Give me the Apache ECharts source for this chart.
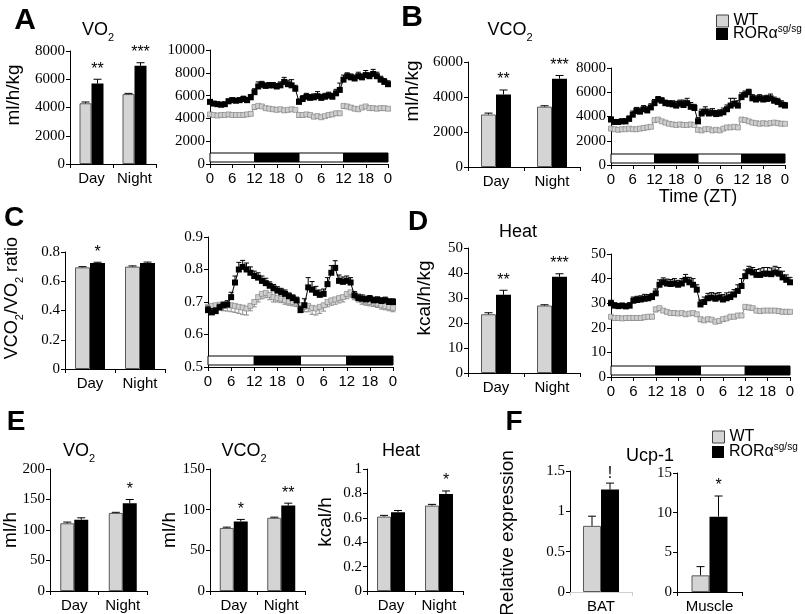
<!DOCTYPE html>
<html><head><meta charset="utf-8">
<script src="https://cdn.jsdelivr.net/npm/echarts@6/dist/echarts.min.js"></script>
<style>html,body{margin:0;padding:0;background:#fff}#c{width:805px;height:614px}</style>
</head><body><div id="c"></div>
<script>
// ---------- DATA ----------
const barCats = ['Day', 'Night'];
const ztTickLabels = ['0','6','12','18','0','6','12','18','0'];
const ztPhases = [[0,12,'light'],[12,24,'dark'],[24,36,'light'],[36,48,'dark']];
const WT = 'WT', KO = 'RORα sg/sg';

// A: VO2 (ml/h/kg)
const aBarWT = [4300, 4950], aBarWTErr = [90, 50];
const aBarKO = [5700, 6950], aBarKOErr = [300, 220];
const aBarSig = ['**', '***'];
const aLineKO = [5450,5300,5250,5200,5250,5500,5600,5550,5600,5700,5600,5850,6300,6800,6950,6850,6900,6900,6800,6900,7200,7000,6900,6600,5450,5700,5900,5800,5850,5950,5800,5900,6000,5900,6200,6500,7400,7700,7600,7500,7700,7600,7800,7700,7900,7700,7400,7200,7000];
const aLineKOErr = [200,150,150,150,150,200,200,200,200,250,200,250,300,400,300,250,250,250,250,300,400,350,500,300,250,300,300,300,300,400,300,300,300,300,350,600,400,300,300,300,350,300,400,300,400,350,300,300,300];
const aLineWT = [4350,4300,4250,4300,4300,4350,4300,4300,4300,4300,4350,4400,5000,5100,5050,4900,4850,4800,4750,4800,4700,4750,4800,4750,4300,4300,4350,4300,4150,4200,4100,4200,4300,4350,4450,4450,5100,5050,4950,4850,4800,4950,5050,4900,4900,4850,4900,4900,4850];
const aLineWTErr = [150,150,150,150,150,150,150,150,150,150,150,150,200,200,150,150,150,150,150,150,150,150,150,150,200,150,150,150,150,150,150,150,150,150,150,150,200,200,150,150,150,150,150,150,150,150,150,150,150];

// B: VCO2 (ml/h/kg)
const bBarWT = [3000, 3450], bBarWTErr = [80, 50];
const bBarKO = [4150, 5050], bBarKOErr = [250, 180];
const bBarSig = ['**', '***'];
const bLineKO = [3750,3550,3550,3600,3600,3800,4150,4450,4400,4600,4500,4750,5100,5400,5300,5100,5050,5000,4900,5050,4950,5100,4800,4700,3600,4250,4400,4250,4300,4200,4250,4350,4600,4900,5050,4900,5600,5800,6000,5500,5400,5500,5400,5450,5500,5300,5200,5000,4900];
const bLineKOErr = [200,200,200,200,200,250,300,300,300,300,300,300,300,250,250,250,250,300,350,300,400,400,350,300,300,350,400,350,350,300,300,350,350,600,450,400,350,300,250,300,300,300,300,300,350,300,300,300,250];
const bLineWT = [3000,2950,2900,2950,2950,3000,2950,2950,3000,3050,3100,3150,3700,3750,3600,3500,3400,3350,3300,3350,3300,3300,3350,3300,2900,2850,2950,2950,2850,2900,2850,3000,3100,3100,3150,3100,3750,3700,3600,3500,3450,3400,3450,3400,3450,3500,3450,3400,3400];
const bLineWTErr = [120,120,120,120,120,120,120,120,120,120,120,120,150,150,120,120,120,120,120,120,120,120,120,120,150,120,120,120,120,120,120,120,120,120,120,120,150,150,120,120,120,120,120,120,120,120,120,120,120];

// C: VCO2/VO2 ratio
const cBarWT = [0.695, 0.700], cBarWTErr = [0.005, 0.005];
const cBarKO = [0.725, 0.725], cBarKOErr = [0.005, 0.006];
const cBarSig = ['*', ''];
const cLineKO = [0.675,0.668,0.672,0.683,0.690,0.692,0.715,0.760,0.800,0.808,0.800,0.790,0.780,0.775,0.765,0.758,0.750,0.742,0.735,0.730,0.725,0.718,0.712,0.705,0.675,0.690,0.745,0.738,0.728,0.722,0.725,0.755,0.790,0.805,0.765,0.762,0.765,0.760,0.720,0.712,0.710,0.708,0.710,0.705,0.706,0.703,0.705,0.700,0.700];
const cLineKOErr = [0.012,0.012,0.010,0.010,0.010,0.012,0.015,0.020,0.022,0.020,0.020,0.018,0.015,0.015,0.015,0.015,0.012,0.012,0.012,0.012,0.012,0.010,0.010,0.010,0.012,0.020,0.030,0.025,0.020,0.015,0.015,0.020,0.022,0.022,0.018,0.015,0.015,0.015,0.012,0.012,0.012,0.010,0.010,0.010,0.010,0.010,0.010,0.010,0.010];
const cLineWT = [0.685,0.688,0.690,0.692,0.688,0.690,0.690,0.688,0.685,0.683,0.680,0.688,0.700,0.715,0.725,0.728,0.722,0.715,0.712,0.710,0.705,0.702,0.700,0.698,0.690,0.685,0.688,0.682,0.680,0.685,0.690,0.700,0.705,0.708,0.712,0.715,0.725,0.730,0.722,0.712,0.705,0.702,0.700,0.698,0.695,0.690,0.688,0.685,0.682];
const cLineWTErr = [0.012,0.015,0.015,0.015,0.015,0.018,0.020,0.020,0.020,0.022,0.020,0.015,0.015,0.015,0.015,0.015,0.015,0.015,0.012,0.012,0.012,0.012,0.012,0.012,0.015,0.015,0.018,0.020,0.020,0.020,0.018,0.015,0.015,0.015,0.015,0.015,0.015,0.015,0.015,0.012,0.012,0.012,0.012,0.012,0.012,0.012,0.012,0.012,0.012];

// D: Heat (kcal/h/kg)
const dBarWT = [23.5, 27.0], dBarWTErr = [0.6, 0.3];
const dBarKO = [31.3, 38.5], dBarKOErr = [1.8, 1.2];
const dBarSig = ['**', '***'];
const dLineKO = [30,29,28.8,29,28.7,29,31,31.3,31.5,31.8,32,32.5,34,37.5,38.5,38,37.8,38,37.5,38,39.5,38.5,37.5,35.5,29.5,30.5,32,32.3,31.8,32.3,31.5,32,32.5,33.5,35,37,41,43,42.5,41.5,41.5,42,42,41.8,42.5,42,40.5,39.5,38.5];
const dLineKOErr = [1.2,1.2,1,1,1,1.2,1.5,1.5,1.5,1.8,1.5,1.5,1.8,2,1.8,1.8,1.8,2,1.8,2,2.2,2,2.5,2,1.8,2,2,2,2.2,2,2,2.2,2,2,2.5,3,2.5,2,2,2.2,2.5,2.5,2.5,2.5,2.5,2.5,2.5,2,2];
const dLineWT = [24.5,24,24,23.8,24,24,24,24,24,24.3,24.5,24.5,27.5,28,27,26.5,26,26,25.8,26,25.5,25.8,26,25.5,23.5,23,23.5,23.3,22.5,22.8,23.5,23.8,24.5,24.5,25,25,28.5,28.3,28,27,26.8,27,27,27,27,26.8,26.5,26.5,26.5];
const dLineWTErr = [0.8,0.8,0.8,0.8,0.8,0.8,0.8,0.8,0.8,0.8,0.8,0.8,1,1,0.8,0.8,0.8,0.8,0.8,0.8,0.8,0.8,0.8,0.8,1,0.8,0.8,0.8,0.8,0.8,0.8,0.8,0.8,0.8,0.8,0.8,1,1,0.8,0.8,0.8,0.8,0.8,0.8,0.8,0.8,0.8,0.8,0.8];

// E: per animal
const eVo2WT = [111, 128], eVo2WTErr = [2, 1];
const eVo2KO = [117, 144], eVo2KOErr = [3, 6];
const eVo2Sig = ['', '*'];
const eVco2WT = [77.5, 90], eVco2WTErr = [1, 0.8];
const eVco2KO = [85.5, 105], eVco2KOErr = [2.5, 3];
const eVco2Sig = ['*', '**'];
const eHeatWT = [0.61, 0.70], eHeatWTErr = [0.01, 0.01];
const eHeatKO = [0.645, 0.795], eHeatKOErr = [0.015, 0.025];
const eHeatSig = ['', '*'];

// F: Ucp-1 relative expression
const fBatCat = ['BAT'], fBatWT = [0.82], fBatWTErr = [0.12], fBatKO = [1.27], fBatKOErr = [0.08], fBatSig = ['!'];
const fMusCat = ['Muscle'], fMusWT = [2.1], fMusWTErr = [1.1], fMusKO = [9.5], fMusKOErr = [2.6], fMusSig = ['*'];

// ---------- BUILD ----------
const SANS = 'Liberation Sans';
const SERIF = 'Liberation Serif';
const grids = [], xAxes = [], yAxes = [], mainSeries = [], extraSeries = [];

function gridOf(g) {
  return {left: g[0], top: g[1], width: g[2], height: g[3], containLabel: false, outerBoundsMode: 'none'};
}
function yAxisOf(gi, min, max, interval) {
  return {gridIndex: gi, type: 'value', min: min, max: max, interval: interval,
    axisLine: {show: true, lineStyle: {color: '#000', width: 1}},
    axisTick: {show: true, length: 4, lineStyle: {color: '#000'}},
    splitLine: {show: false},
    axisLabel: {color: '#000', fontFamily: SERIF, fontSize: 15, margin: 5,
      formatter: v => String(+(+v).toFixed(4))}};
}
function barErr(gi, vals, errs, side, bw, sig) {
  return {type: 'custom', xAxisIndex: gi, yAxisIndex: gi, z: 4, silent: true, encode: {x: 0, y: 1},
    data: vals.map((v, i) => [i, v, errs[i]]),
    renderItem: (params, api) => {
      const c = api.value(0), v = api.value(1), e = api.value(2);
      const p = api.coord([c, v]), q = api.coord([c, v + e]);
      const x = p[0] + side * bw / 2;
      const ch = [
        {type: 'line', shape: {x1: x, y1: p[1], x2: x, y2: q[1]}, style: {stroke: '#000', lineWidth: 1}},
        {type: 'line', shape: {x1: x - 4, y1: q[1], x2: x + 4, y2: q[1]}, style: {stroke: '#000', lineWidth: 1}}
      ];
      const s = sig ? sig[params.dataIndex] : '';
      if (s) ch.push({type: 'text', x: x, y: q[1] - 2,
        style: {text: s, fontSize: 16, fontFamily: SANS, fill: '#000', align: 'center', verticalAlign: 'bottom'}});
      return {type: 'group', children: ch};
    }};
}
function addBarChart(g, cats, yMax, yInt, wt, wtErr, ko, koErr, sig, bw, xLineColor) {
  const gi = grids.length;
  grids.push(gridOf(g));
  xAxes.push({gridIndex: gi, type: 'category', data: cats,
    axisLine: {show: true, lineStyle: {color: xLineColor || '#000', width: 1}},
    axisTick: {show: true, length: 4, interval: 0, lineStyle: {color: xLineColor || '#000'}},
    axisLabel: {color: '#000', fontFamily: SANS, fontSize: 15, margin: 7, interval: 0}});
  yAxes.push(yAxisOf(gi, 0, yMax, yInt));
  mainSeries.push({type: 'bar', name: WT, xAxisIndex: gi, yAxisIndex: gi, data: wt, barWidth: bw, barGap: '0%',
    itemStyle: {color: '#d4d4d4', borderColor: '#5a5a5a', borderWidth: 1}, silent: true});
  mainSeries.push({type: 'bar', name: KO, xAxisIndex: gi, yAxisIndex: gi, data: ko, barWidth: bw, barGap: '0%',
    itemStyle: {color: '#000'}, silent: true});
  extraSeries.push(barErr(gi, wt, wtErr, -1, bw, null));
  extraSeries.push(barErr(gi, ko, koErr, 1, bw, sig));
}
function lineErr(gi, vals, errs, dir, color) {
  return {type: 'custom', xAxisIndex: gi, yAxisIndex: gi, silent: true, encode: {x: 0, y: 1}, z: dir > 0 ? 3 : 1,
    data: vals.map((v, i) => [i, v, errs[i]]),
    renderItem: (params, api) => {
      const x = api.value(0), v = api.value(1), e = api.value(2);
      const p = api.coord([x, v]), q = api.coord([x, v + dir * e]);
      return {type: 'group', children: [
        {type: 'line', shape: {x1: p[0], y1: p[1], x2: q[0], y2: q[1]}, style: {stroke: color, lineWidth: 1}},
        {type: 'line', shape: {x1: q[0] - 2.5, y1: q[1], x2: q[0] + 2.5, y2: q[1]}, style: {stroke: color, lineWidth: 1}}
      ]};
    }};
}
function addLineChart(g, yMin, yMax, yInt, wt, wtErr, ko, koErr) {
  const gi = grids.length;
  grids.push(gridOf(g));
  xAxes.push({gridIndex: gi, type: 'value', min: 0, max: 48, interval: 6,
    axisLine: {show: true, lineStyle: {color: '#000', width: 1}},
    axisTick: {show: true, length: 4, lineStyle: {color: '#000'}},
    splitLine: {show: false},
    axisLabel: {color: '#000', fontFamily: SANS, fontSize: 15, margin: 7, showMinLabel: true, showMaxLabel: true,
      formatter: v => ztTickLabels[Math.round(v / 6)]}});
  yAxes.push(yAxisOf(gi, yMin, yMax, yInt));
  extraSeries.push({type: 'custom', xAxisIndex: gi, yAxisIndex: gi, silent: true, z: 1, encode: {x: 0, y: 1},
    data: ztPhases.map(p => [p[0], p[1]]),
    renderItem: (params, api) => {
      const a = api.coord([api.value(0), yMin]), b = api.coord([api.value(1), yMin]);
      const dark = ztPhases[params.dataIndex][2] === 'dark';
      return {type: 'rect', shape: {x: a[0], y: a[1] - 11, width: b[0] - a[0], height: 9},
        style: {fill: dark ? '#000' : '#fff', stroke: '#000', lineWidth: 1}};
    }});
  extraSeries.push(lineErr(gi, wt, wtErr, -1, '#8a8a8a'));
  extraSeries.push({type: 'line', name: WT, xAxisIndex: gi, yAxisIndex: gi, z: 2, silent: true,
    data: wt.map((v, i) => [i, v]), symbol: 'rect', symbolSize: 5,
    itemStyle: {color: '#cfcfcf', borderColor: '#7a7a7a', borderWidth: 0.6},
    lineStyle: {color: '#8a8a8a', width: 1, type: 'dashed'}});
  extraSeries.push(lineErr(gi, ko, koErr, 1, '#000'));
  extraSeries.push({type: 'line', name: KO, xAxisIndex: gi, yAxisIndex: gi, z: 3, silent: true,
    data: ko.map((v, i) => [i, v]), symbol: 'rect', symbolSize: 6,
    itemStyle: {color: '#000'}, lineStyle: {color: '#000', width: 1}});
}

// Panel A
addBarChart([70, 51, 86, 113], barCats, 8000, 2000, aBarWT, aBarWTErr, aBarKO, aBarKOErr, aBarSig, 12);
addLineChart([210, 50, 178, 114], 0, 10000, 2000, aLineWT, aLineWTErr, aLineKO, aLineKOErr);
// Panel B
addBarChart([468, 62, 112, 105], barCats, 6000, 2000, bBarWT, bBarWTErr, bBarKO, bBarKOErr, bBarSig, 15);
addLineChart([611, 68, 174, 97], 0, 8000, 2000, bLineWT, bLineWTErr, bLineKO, bLineKOErr);
// Panel C
addBarChart([65, 252, 100, 117], barCats, 0.8, 0.2, cBarWT, cBarWTErr, cBarKO, cBarKOErr, cBarSig, 15);
addLineChart([208, 237, 185, 130], 0.5, 0.9, 0.1, cLineWT, cLineWTErr, cLineKO, cLineKOErr);
// Panel D
addBarChart([468, 248, 112, 125], barCats, 50, 10, dBarWT, dBarWTErr, dBarKO, dBarKOErr, dBarSig, 15);
addLineChart([611, 254, 179, 123], 0, 50, 10, dLineWT, dLineWTErr, dLineKO, dLineKOErr);
// Panel E
addBarChart([50, 469, 97, 122], barCats, 200, 50, eVo2WT, eVo2WTErr, eVo2KO, eVo2KOErr, eVo2Sig, 14);
addBarChart([210, 469, 95, 122], barCats, 150, 50, eVco2WT, eVco2WTErr, eVco2KO, eVco2KOErr, eVco2Sig, 14);
addBarChart([367, 469, 96, 122], barCats, 1, 0.2, eHeatWT, eHeatWTErr, eHeatKO, eHeatKOErr, eHeatSig, 14);
// Panel F
addBarChart([570, 471, 62, 121], fBatCat, 1.5, 0.5, fBatWT, fBatWTErr, fBatKO, fBatKOErr, fBatSig, 18, '#cfcfcf');
addBarChart([677, 473, 65, 119], fMusCat, 15, 5, fMusWT, fMusWTErr, fMusKO, fMusKOErr, fMusSig, 18);

// ---------- TEXT ----------
const subRich = {
  m: {fontSize: 18, fontFamily: SANS, lineHeight: 26, fill: '#000'},
  s: {fontSize: 11, fontFamily: SANS, verticalAlign: 'bottom', fill: '#000'}
};
function label(x, y, text, size, bold, rot) {
  return {type: 'text', x: x, y: y, rotation: rot || 0, silent: true,
    style: {text: text, fontSize: size, fontFamily: SANS, fontWeight: bold ? 'bold' : 'normal', fill: '#000',
      align: 'center', verticalAlign: 'middle', rich: subRich}};
}
const R = Math.PI / 2;
const graphics = [
  label(25, 21, 'A', 30, true), label(412, 18, 'B', 30, true), label(14, 218, 'C', 28, true),
  label(418, 222, 'D', 28, true), label(16, 422, 'E', 28, true), label(514, 422, 'F', 28, true),
  label(98, 30, '{m|VO}{s|2}', 18), label(510, 30, '{m|VCO}{s|2}', 18), label(518, 232, 'Heat', 18),
  label(79, 451, '{m|VO}{s|2}', 18), label(244, 451, '{m|VCO}{s|2}', 18), label(401, 451, 'Heat', 18),
  label(650, 456, 'Ucp-1', 18), label(698, 197, 'Time (ZT)', 18),
  label(14, 95, 'ml/h/kg', 19, false, R), label(413, 91, 'ml/h/kg', 19, false, R),
  label(12, 298, '{m|VCO}{s|2}{m|/VO}{s|2}{m| ratio}', 18, false, R),
  label(425, 298, 'kcal/h/kg', 19, false, R),
  label(11, 530, 'ml/h', 19, false, R), label(170, 530, 'ml/h', 19, false, R),
  label(326, 522, 'kcal/h', 19, false, R), label(508, 533, 'Relative expression', 19, false, R)
];

function legendOf(left, top, name) {
  const isWT = name === WT;
  return {left: left, top: top, padding: 0, orient: 'vertical', selectedMode: false,
    itemWidth: 12, itemHeight: 12, icon: 'rect',
    data: [{name: name, itemStyle: isWT ? {color: '#d4d4d4', borderColor: '#444', borderWidth: 1} : {color: '#000', borderWidth: 0}}],
    formatter: n => n === WT ? 'WT' : '{m|RORα}{s|sg/sg}',
    textStyle: {color: '#000', fontFamily: SANS, fontSize: 16, lineHeight: 16,
      rich: {m: {fontSize: 16, fontFamily: SANS, lineHeight: 20, color: '#000'},
             s: {fontSize: 10, fontFamily: SANS, verticalAlign: 'top', color: '#000'}}}};
}

const chart = echarts.init(document.getElementById('c'), null, {renderer: 'canvas'});
chart.setOption({
  backgroundColor: '#fff',
  animation: false,
  tooltip: {show: false},
  grid: grids, xAxis: xAxes, yAxis: yAxes,
  legend: [legendOf(716, 13, WT), legendOf(716, 24, KO), legendOf(712, 429, WT), legendOf(712, 442, KO)],
  series: mainSeries.concat(extraSeries),
  graphic: graphics
});
</script></body></html>
